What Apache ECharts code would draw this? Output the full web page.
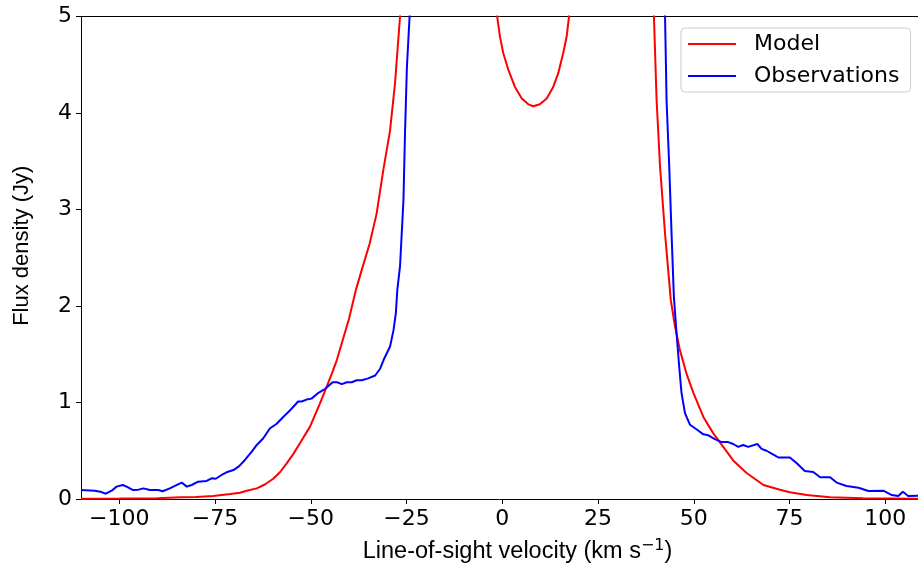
<!DOCTYPE html>
<html>
<head>
<meta charset="utf-8">
<script src="https://cdn.jsdelivr.net/npm/echarts@6/dist/echarts.min.js"></script>
<style>
html,body{margin:0;padding:0;background:#fff;}
#chart{width:918px;height:575px;}
</style>
</head>
<body>
<div id="chart"></div>
<script>
// ---- Data ----
const xTicks = [-100, -75, -50, -25, 0, 25, 50, 75, 100];
const yTicks = [0, 1, 2, 3, 4, 5];

// Model (red). null = break where the curve leaves the top of the plot
const modelVel = [
  -110, -100, -90, -84, -80, -75.5, -71, -68.5, -66.7, -64.1, -62, -59.8, -58, -56.3, -54.5, -52.8,
  -50.2, -47.6, -46.0, -44.5, -43.2, -40, -38.2, -36.5, -34.6, -32.8, -31.1, -29.3, -28.0, -26.7, -26.4,
  -20,
  -1.5, -1.3, -0.6, 0.26, 1.57, 3.3, 5.1, 6.8, 8.1, 9.8, 11.6, 13.3, 14.6, 15.9, 16.8, 17.4, 17.6,
  30,
  39.4, 39.6, 40.3, 41.2, 42.5, 44.0, 45.1, 46.4, 48.1, 49.9, 52.5, 55.1, 57.7, 60.3, 63.8, 68.2,
  72.5, 75.1, 79.5, 85.6, 94.2, 108.6
];
const modelFlux = [
  0.002, 0.004, 0.009, 0.018, 0.022, 0.031, 0.052, 0.065, 0.086, 0.11, 0.15, 0.21, 0.28, 0.37, 0.47, 0.58,
  0.75, 0.99, 1.15, 1.30, 1.44, 1.87, 2.17, 2.40, 2.65, 2.96, 3.40, 3.82, 4.31, 5.0, 5.3,
  null,
  5.2, 4.99, 4.79, 4.62, 4.45, 4.27, 4.15, 4.09, 4.07, 4.09, 4.15, 4.27, 4.41, 4.62, 4.79, 4.99, 5.2,
  null,
  5.2, 5.0, 4.13, 3.44, 2.75, 2.06, 1.79, 1.54, 1.30, 1.10, 0.85, 0.68, 0.54, 0.40, 0.27, 0.145,
  0.095, 0.07, 0.041, 0.017, 0.007, 0.003
];

// Observations (blue)
const obsVel = [
  -110, -106.4, -105, -103.5, -102, -100.7, -99.1, -98.1, -96.4, -95.0, -93.7, -92, -89.8, -88.7,
  -86.8, -85.5, -83.7, -82.4, -81.1, -79.4, -77.2, -75.9, -74.8, -73.3, -72.0, -70.2, -68.7, -67.2,
  -66.5, -65.4, -64.1, -62.4, -60.7, -58.9, -57.2, -55.4, -53.3, -52.4, -51.1, -49.8, -48.0, -46.3,
  -44.3, -43.1, -41.9, -40.6, -39.3, -38.0, -36.7, -35.0, -33.2, -31.9, -31.0, -29.3, -28.4, -27.8,
  -27.4, -26.7, -25.8, -25.4, -24.9, -24.2, -23.9,
  10,
  42.3, 42.5, 42.9, 43.6, 44.2, 44.8, 45.5, 46.2, 46.8, 47.7, 49.0, 50.8, 52.5, 53.8, 55.5, 57.3,
  59.0, 60.3, 61.6, 62.9, 64.2, 66.6, 67.7, 69.0, 70.8, 72.1, 74.3, 75.1, 76.9, 79.0, 81.2, 83.0,
  85.6, 87.3, 89.9, 93.0, 95.6, 99.5, 101.7, 103.4, 104.6, 106.0, 108.6
];
const obsFlux = [
  0.093, 0.086, 0.076, 0.055, 0.086, 0.128, 0.145, 0.128, 0.093, 0.097, 0.11, 0.093, 0.093, 0.08,
  0.11, 0.135, 0.17, 0.128, 0.145, 0.18, 0.187, 0.214, 0.21, 0.249, 0.277, 0.30, 0.34, 0.404,
  0.44, 0.49, 0.56, 0.63, 0.73, 0.78, 0.85, 0.92, 1.01, 1.01, 1.03, 1.04, 1.10, 1.14,
  1.21, 1.21, 1.19, 1.21, 1.21, 1.23, 1.23, 1.25, 1.28, 1.35, 1.44, 1.58, 1.75, 1.92,
  2.17, 2.41, 3.10, 3.79, 4.48, 5.0, 5.4,
  null,
  5.4, 5.0, 4.13, 3.44, 2.75, 2.10, 1.72, 1.37, 1.10, 0.89, 0.77, 0.72, 0.67, 0.66, 0.62, 0.59,
  0.59, 0.57, 0.54, 0.56, 0.54, 0.57, 0.52, 0.50, 0.46, 0.43, 0.43, 0.43, 0.37, 0.29, 0.28, 0.225,
  0.225, 0.17, 0.135, 0.117, 0.083, 0.086, 0.041, 0.031, 0.076, 0.031, 0.034
];

const pairs = (xs, ys) => xs.map((x, i) => [x, ys[i] === null ? null : ys[i]]);
const minusFmt = v => (v < 0 ? '\u2212' + Math.abs(v) : String(v));

const tickFont = { fontFamily: 'DejaVu Sans', fontSize: 22, color: '#000' };
const chart = echarts.init(document.getElementById('chart'), null, { renderer: 'canvas' });
chart.setOption({
  animation: false,
  backgroundColor: '#fff',
  grid: { left: 81, right: 0, top: 16.5, bottom: 76, containLabel: false, outerBoundsMode: 'none' },
  legend: {
    orient: 'vertical',
    left: 681, top: 28,
    padding: [5, 11, 5, 7],
    icon: 'rect',
    itemWidth: 48, itemHeight: 2, itemGap: 10,
    backgroundColor: 'rgba(255,255,255,0.8)',
    borderColor: '#cccccc', borderWidth: 1, borderRadius: 4,
    textStyle: { fontFamily: 'DejaVu Sans', fontSize: 22, color: '#000', padding: [0, 0, 0, 13], lineHeight: 22 },
    data: ['Model', 'Observations']
  },
  xAxis: [{
    type: 'value', min: -110, max: 108.55,
    name: '{a|Line-of-sight velocity (km s}{s|\u22121}{a|)}',
    nameLocation: 'middle', nameGap: 39,
    nameTextStyle: {
      padding: [0, 0, 0, 36],
      rich: {
        a: { fontFamily: 'Liberation Sans', fontSize: 23.5, color: '#000', lineHeight: 26, verticalAlign: 'bottom' },
        s: { fontFamily: 'DejaVu Sans', fontSize: 16, color: '#000', lineHeight: 26, verticalAlign: 'top', padding: [0, 0, 8, 0] }
      }
    },
    axisLine: { show: true, onZero: false, lineStyle: { color: '#000', width: 1 } },
    axisTick: { show: true, length: 5, customValues: xTicks, lineStyle: { color: '#000' } },
    axisLabel: { show: true, margin: 9, customValues: xTicks, formatter: minusFmt, ...tickFont },
    splitLine: { show: false }
  }, {
    type: 'value', position: 'top', min: -110, max: 108.55,
    axisLine: { show: true, onZero: false, lineStyle: { color: '#000', width: 1 } },
    axisTick: { show: false }, axisLabel: { show: false }, splitLine: { show: false }
  }],
  yAxis: {
    type: 'value', min: 0, max: 5, interval: 1,
    name: 'Flux density (Jy)', nameLocation: 'middle', nameGap: 48, nameRotate: 90,
    nameTextStyle: { fontFamily: 'Liberation Sans', fontSize: 22, color: '#000', padding: [0, 0, 0, 24] },
    axisLine: { show: true, onZero: false, lineStyle: { color: '#000', width: 1 } },
    axisTick: { show: true, length: 5, lineStyle: { color: '#000' } },
    axisLabel: { show: true, margin: 9, ...tickFont },
    splitLine: { show: false }
  },
  series: [{
    name: 'Model', type: 'line', xAxisIndex: 0,
    data: pairs(modelVel, modelFlux),
    symbol: 'none', smooth: false, connectNulls: false, clip: true,
    lineStyle: { color: '#ff0000', width: 2 }, itemStyle: { color: '#ff0000' }
  }, {
    name: 'Observations', type: 'line', xAxisIndex: 0,
    data: pairs(obsVel, obsFlux),
    symbol: 'none', smooth: false, connectNulls: false, clip: true,
    lineStyle: { color: '#0000ff', width: 2 }, itemStyle: { color: '#0000ff' }
  }]
});
</script>
</body>
</html>
